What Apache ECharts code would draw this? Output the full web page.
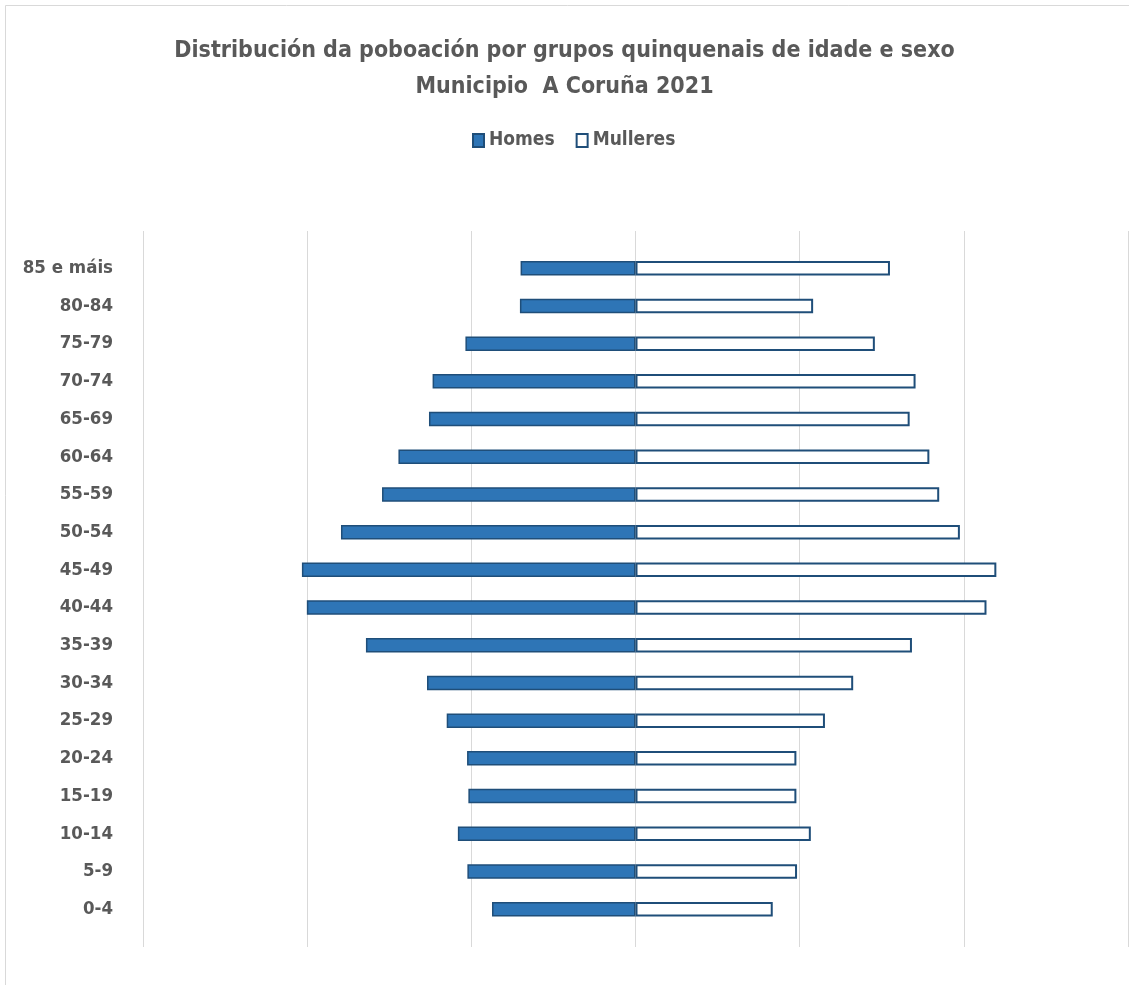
<!DOCTYPE html>
<html>
<head>
<meta charset="utf-8">
<script src="https://cdn.jsdelivr.net/npm/echarts@6/dist/echarts.min.js"></script>
<style>
html,body{margin:0;padding:0;background:#fff;}
#chart{width:1129px;height:985px;}
</style>
</head>
<body>
<div id="chart"></div>
<script>
// Age groups, bottom to top
const categories = ['0-4','5-9','10-14','15-19','20-24','25-29','30-34','35-39','40-44','45-49','50-54','55-59','60-64','65-69','70-74','75-79','80-84','85 e máis'];
const homes    = [4370, 5120, 5410, 5090, 5130, 5750, 6350, 8210, 10010, 10160, 8970, 7720, 7220, 6290, 6180, 5180, 3520, 3500];
const mulleres = [4180, 4920, 5340, 4900, 4900, 5770, 6630, 8420, 10690, 10990, 9880, 9250, 8950, 8350, 8530, 7290, 5410, 7750];
const axisMin = -15000, axisMax = 15000, axisStep = 5000;

const FONT = "'Liberation Sans Narrow', 'DejaVu Sans Condensed', 'Liberation Sans', sans-serif";
const GRAY = '#595959';

const chart = echarts.init(document.getElementById('chart'), null, {renderer: 'canvas'});
chart.setOption({
  backgroundColor: '#ffffff',
  animation: false,
  title: {
    text: 'Distribución da poboación por grupos quinquenais de idade e sexo\nMunicipio  A Coruña 2021',
    left: 'center',
    top: 33,
    padding: 0,
    textStyle: {fontFamily: FONT, fontWeight: 'bold', fontSize: 23, color: GRAY, lineHeight: 36}
  },
  legend: {
    top: 126,
    left: 467,
    icon: 'rect',
    itemWidth: 11,
    itemHeight: 13,
    itemGap: 21,
    textStyle: {fontFamily: FONT, fontWeight: 'bold', fontSize: 19, color: GRAY},
    data: ['Homes', 'Mulleres']
  },
  graphic: [{
    type: 'rect', silent: true, z: -1,
    shape: {x: 5.5, y: 5.5, width: 1200, height: 1100},
    style: {fill: 'none', stroke: '#d9d9d9', lineWidth: 1}
  }],
  grid: [
    {left: 143, width: 985, top: 231, height: 716},
    {left: 143, width: 985, top: 249.4, height: 678.6}
  ],
  xAxis: [
    {gridIndex: 0, type: 'value', min: axisMin, max: axisMax, interval: axisStep,
     axisLine: {show: false}, axisTick: {show: false}, axisLabel: {show: false},
     splitLine: {show: true, lineStyle: {color: '#d9d9d9', width: 1}}},
    {gridIndex: 1, type: 'value', min: axisMin, max: axisMax, interval: axisStep,
     axisLine: {show: false}, axisTick: {show: false}, axisLabel: {show: false},
     splitLine: {show: false}}
  ],
  yAxis: [
    {gridIndex: 0, type: 'category', data: categories, show: false},
    {gridIndex: 1, type: 'category', data: categories,
     axisLine: {show: false}, axisTick: {show: false},
     axisLabel: {margin: 30, fontFamily: FONT, fontWeight: 'bold', fontSize: 18.5, color: GRAY},
     splitLine: {show: false}}
  ],
  series: [
    {name: 'Homes', type: 'bar', xAxisIndex: 1, yAxisIndex: 1, stack: 'pop',
     barWidth: 14.5,
     itemStyle: {color: '#2E75B6', borderColor: '#1F4E79', borderWidth: 1.5},
     data: homes.map(v => -v)},
    {name: 'Mulleres', type: 'bar', xAxisIndex: 1, yAxisIndex: 1, stack: 'pop',
     barWidth: 14.5,
     itemStyle: {color: '#ffffff', borderColor: '#1F4E79', borderWidth: 2},
     data: mulleres}
  ]
});
</script>
</body>
</html>
